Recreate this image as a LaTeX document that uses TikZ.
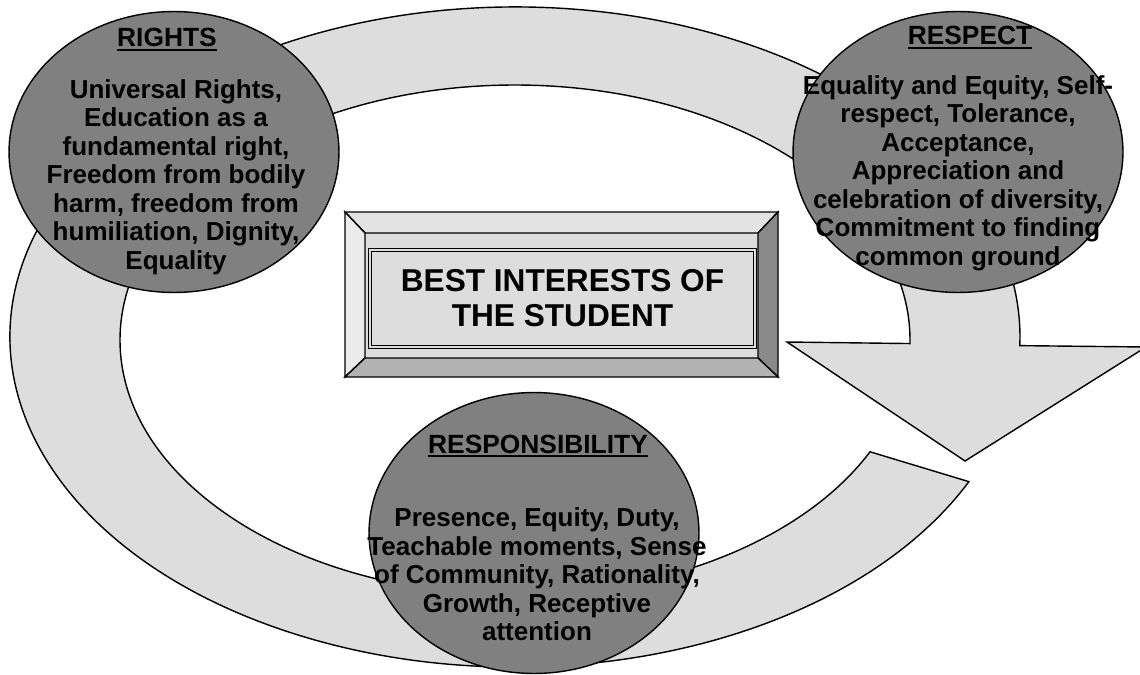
\documentclass[tikz,border=0pt]{standalone}
\usepackage{fontspec}
\setmainfont{Liberation Sans}
\usepackage{xcolor}
\usepackage{tikz}
\usetikzlibrary{shapes.geometric}
\definecolor{bandgray}{HTML}{DDDDDD}
\definecolor{discgray}{HTML}{808080}
\definecolor{bevellight}{HTML}{EBEBEB}
\definecolor{beveltop}{HTML}{E3E3E3}
\definecolor{bevelbottom}{HTML}{B3B3B3}
\definecolor{beveldark}{HTML}{8A8A8A}
\tikzstyle{band} = [draw=black, line width=0.8pt, fill=bandgray, line join=miter]
\tikzstyle{bevel} = [draw=black, line width=0.8pt]
\tikzstyle{value} = [ellipse, minimum width=6.6cm, minimum height=5.62cm, inner sep=0pt, draw=black, line width=0.8pt, fill=discgray]
\tikzstyle{heading} = [anchor=base, inner sep=0pt, font=\fontsize{15}{16}\selectfont\bfseries]
\tikzstyle{body} = [align=center, inner sep=0pt, font=\fontsize{14.8}{16.2}\selectfont\bfseries]
\tikzstyle{title} = [rectangle, minimum width=7.7cm, minimum height=1.94cm, align=center, draw=black, line width=0.5pt, double=bandgray, double distance=0.9pt, fill=bandgray, font=\fontsize{18}{19.9}\selectfont\bfseries]
\newcommand{\headline}[1]{\setbox0\hbox{#1}\rlap{\rule[-2.4pt]{\wd0}{1.4pt}}\box0}

\begin{document}
\begin{tikzpicture}[x=0.02cm, y=0.02cm]
        \useasboundingbox (0,0) rectangle (1140,674);

        % Ring arrow
        \draw [band] ([shift={(515,337)}]-26:505 and 330)
            arc [start angle=-26, end angle=-361.5, x radius=505, y radius=330]
            -- (1146,327) -- (965,213) -- (787,332)
            -- ([shift={(515,334)}]-360.8:395 and 255)
            arc [start angle=-360.8, end angle=-26, x radius=395, y radius=255] -- cycle;

        % Bevelled frame
        \fill [bandgray] (345,297) rectangle (778,462);
        \draw [bevel, fill=beveltop] (345,462) -- (778,462) -- (758,441) -- (365,441) -- cycle;
        \draw [bevel, fill=bevellight] (345,462) -- (365,441) -- (365,316) -- (345,297) -- cycle;
        \draw [bevel, fill=beveldark] (778,462) -- (778,297) -- (758,316) -- (758,441) -- cycle;
        \draw [bevel, fill=bevelbottom] (345,297) -- (778,297) -- (758,316) -- (365,316) -- cycle;
        \node (best) [title] at (562.5,375.5) {BEST INTERESTS OF\\THE STUDENT};

        % Values
        \node (rights) [value] at (174,522) {};
        \node (respect) [value] at (958,522) {};
        \node (responsibility) [value] at (534,141) {};

        \node (rightshead) [heading] at (167,627) {\headline{RIGHTS}};
        \node (rightsbody) [body] at (176,497) {Universal Rights,\\Education as a\\fundamental right,\\Freedom from bodily\\harm, freedom from\\humiliation, Dignity,\\Equality};

        \node (respecthead) [heading] at (970,629) {\headline{RESPECT}};
        \node (respectbody) [body] at (958,501) {Equality and Equity, Self-\\respect, Tolerance,\\Acceptance,\\Appreciation and\\celebration of diversity,\\Commitment to finding\\common ground};

        \node (responsibilityhead) [heading] at (538,221) {\headline{RESPONSIBILITY}};
        \node (responsibilitybody) [body] at (537,99.5) {Presence, Equity, Duty,\\Teachable moments, Sense\\of Community, Rationality,\\Growth, Receptive\\attention};
    \end{tikzpicture}
\end{document}
